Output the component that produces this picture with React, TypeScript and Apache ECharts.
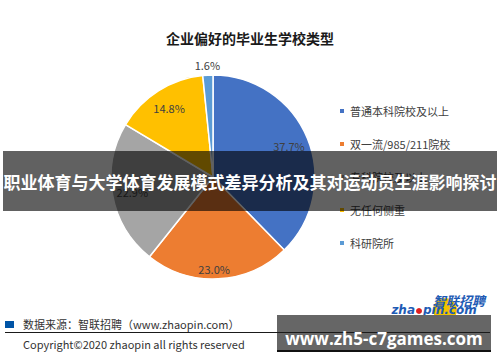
import React, { useEffect, useRef } from "react";
import * as echarts from "echarts";

const titleText = "企业偏好的毕业生学校类型";
const categories = ["普通本科院校及以上", "双一流/985/211院校", "专科院校及以上", "无任何侧重", "科研院所"];
const values = [37.7, 23.0, 22.9, 14.8, 1.6];
const sliceColors = ["#4472C4", "#ED7D31", "#A5A5A5", "#FFC000", "#5B9BD5"];
const bannerText = "职业体育与大学体育发展模式差异分析及其对运动员生涯影响探讨";
const sourceText = "数据来源：智联招聘（www.zhaopin.com）";
const copyrightText = "Copyright©2020 zhaopin all rights reserved";
const watermarkText = "www.zh5-c7games.com";

const FONT = '"Noto Sans CJK SC", "Noto Sans", sans-serif';

export default function App() {
  const ref = useRef<HTMLDivElement>(null);
  useEffect(() => {
    if (!ref.current) return;
    const chart = echarts.init(ref.current, null, { renderer: "svg" });
    const data = categories.map((name, i) => ({
      name,
      value: values[i],
      itemStyle: { color: sliceColors[i] },
    }));
    const fmt = (p: any) => Number(p.value).toFixed(1) + "%";
    const labelStyle = { color: "#404040", fontSize: 11, fontFamily: FONT };
    const center = [213, 177];
    const option: any = {
      animation: false,
      backgroundColor: "#ffffff",
      title: {
        text: titleText,
        left: "center",
        top: 25,
        textStyle: { fontSize: 14, fontWeight: "bold", color: "#1a1a1a", fontFamily: FONT, lineHeight: 16 },
      },
      legend: {
        orient: "vertical",
        left: 333,
        top: 99,
        itemWidth: 6,
        itemHeight: 6,
        itemGap: 19,
        icon: "rect",
        selectedMode: false,
        textStyle: { color: "#404040", fontSize: 11, fontFamily: FONT, lineHeight: 14 },
        data: categories.map((name, i) => ({ name, itemStyle: { color: sliceColors[i] } })),
      },
      series: [
        {
          type: "pie",
          center,
          radius: 102,
          startAngle: 90,
          clockwise: true,
          silent: true,
          label: { show: false },
          labelLine: { show: false },
          itemStyle: { borderColor: "#ffffff", borderWidth: 1.5 },
          emphasis: { disabled: true },
          data,
        },
        {
          type: "pie",
          center,
          radius: [56, 102],
          startAngle: 90,
          clockwise: true,
          silent: true,
          itemStyle: { color: "rgba(0,0,0,0)" },
          emphasis: { disabled: true },
          label: { show: true, position: "inside", formatter: (p: any) => (p.dataIndex === 4 ? "" : fmt(p)), ...labelStyle },
          labelLine: { show: false },
          labelLayout: (p: any) => (p.dataIndex === 1 ? { dy: 10, dx: -3 } : {}),
          data: data.map((d) => ({ name: d.name, value: d.value })),
        },
        {
          type: "pie",
          center,
          radius: [102, 116],
          startAngle: 90,
          clockwise: true,
          silent: true,
          itemStyle: { color: "rgba(0,0,0,0)" },
          emphasis: { disabled: true },
          label: { show: true, position: "inside", formatter: (p: any) => (p.dataIndex === 4 ? fmt(p) : ""), ...labelStyle },
          labelLine: { show: false },
          data: data.map((d) => ({ name: d.name, value: d.value })),
        },
      ],
      graphic: [
        // banner
        { type: "rect", z: 100, shape: { x: 3, y: 151, width: 494, height: 60 }, style: { fill: "rgba(0,0,0,0.62)" } },
        {
          type: "text", z: 101, x: 250, y: 181,
          style: { text: bannerText, fill: "#ffffff", font: `bold 17px ${FONT}`, align: "center", verticalAlign: "middle" },
        },
        // logo
        { type: "circle", z: 90, shape: { cx: 445, cy: 310, r: 12 }, style: { fill: "#F2C200" } },
        {
          type: "text", z: 91, x: 459, y: 300,
          style: { text: "智联招聘", fill: "#1E5BB5", font: `italic bold 13px ${FONT}`, align: "center", verticalAlign: "middle" },
        },
        {
          type: "text", z: 91, x: 415, y: 310,
          style: { text: "zha", fill: "#1E5BB5", font: `italic bold 12px "DejaVu Sans", sans-serif`, align: "right", verticalAlign: "middle" },
        },
        { type: "circle", z: 91, shape: { cx: 419, cy: 311, r: 3 }, style: { fill: "#E02020" } },
        {
          type: "text", z: 91, x: 423, y: 310,
          style: { text: "pin.com", fill: "#1E5BB5", font: `italic bold 12px "DejaVu Sans", sans-serif`, align: "left", verticalAlign: "middle" },
        },
        // footer source
        { type: "rect", z: 90, shape: { x: 5, y: 321, width: 9, height: 7 }, style: { fill: "#0054A6" } },
        {
          type: "text", z: 90, x: 23, y: 324,
          style: { text: sourceText, fill: "#333333", font: `11px ${FONT}`, align: "left", verticalAlign: "middle" },
        },
        {
          type: "text", z: 90, x: 23, y: 344,
          style: { text: copyrightText, fill: "#333333", font: `11px ${FONT}`, align: "left", verticalAlign: "middle" },
        },
        // watermark box
        { type: "rect", z: 100, shape: { x: 277, y: 315, width: 214, height: 36 }, style: { fill: "#666666" } },
        { type: "line", z: 101, shape: { x1: 5, y1: 332.5, x2: 490, y2: 332.5 }, style: { stroke: "#1a1a1a", lineWidth: 1 } },
        { type: "line", z: 101, shape: { x1: 277, y1: 351, x2: 491, y2: 351 }, style: { stroke: "#111111", lineWidth: 2 } },
        {
          type: "text", z: 102, x: 384, y: 338,
          style: { text: watermarkText, fill: "#ffffff", font: `bold 17px "Open Sans", sans-serif`, align: "center", verticalAlign: "middle" },
        },
      ],
    };
    chart.setOption(option);
    return () => chart.dispose();
  }, []);
  return (
    <div
      ref={ref}
      style={{ position: "absolute", left: 0, top: 0, width: 500, height: 362, background: "#fff" }}
    />
  );
}
